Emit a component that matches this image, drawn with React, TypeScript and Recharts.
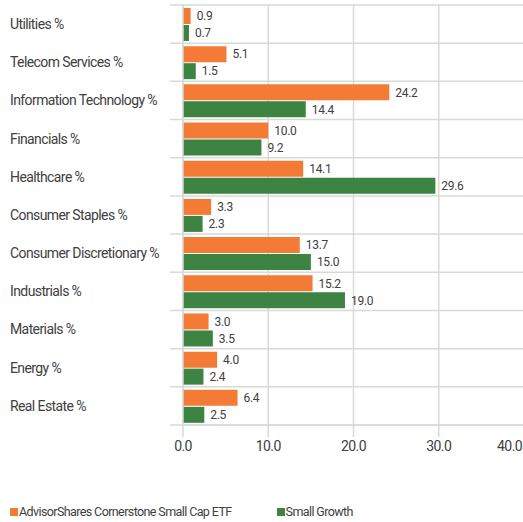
import { Bar, BarChart, CartesianGrid, LabelList, XAxis, YAxis } from "recharts"

const sectors = [
  "Utilities %",
  "Telecom Services %",
  "Information Technology %",
  "Financials %",
  "Healthcare %",
  "Consumer Staples %",
  "Consumer Discretionary %",
  "Industrials %",
  "Materials %",
  "Energy %",
  "Real Estate %",
]
const etfValues = [0.9, 5.1, 24.2, 10.0, 14.1, 3.3, 13.7, 15.2, 3.0, 4.0, 6.4]
const growthValues = [0.7, 1.5, 14.4, 9.2, 29.6, 2.3, 15.0, 19.0, 3.5, 2.4, 2.5]
const xTicks = [0, 10, 20, 30, 40]

const ETF = "AdvisorShares Cornerstone Small Cap ETF"
const GROWTH = "Small Growth"
const ORANGE = "#f47b36"
const GREEN = "#3d8442"
const GRID = "#d9d9d9"
const TEXT = "#404040"
const FONT = "Roboto, 'Liberation Sans Narrow', sans-serif"
const SPACING = -0.6

const data = sectors.map((s, i) => ({ sector: s, [ETF]: etfValues[i], [GROWTH]: growthValues[i] }))

function SectorTick(props: any) {
  const { y, payload } = props
  return (
    <text x={10} y={y} dy="0.35em" textAnchor="start" fill={TEXT} fontSize={14} fontFamily={FONT} letterSpacing={SPACING}>
      {payload.value}
    </text>
  )
}

function ValueTick(props: any) {
  const { x, y, payload } = props
  const last = payload.value === xTicks[xTicks.length - 1]
  return (
    <text
      x={last ? 522 : x}
      y={y + 2}
      dy="0.71em"
      textAnchor={last ? "end" : "middle"}
      fill={TEXT}
      fontSize={14}
      fontFamily={FONT}
      letterSpacing={SPACING}
    >
      {Number(payload.value).toFixed(1)}
    </text>
  )
}

function GridRow(props: any) {
  const { x1, x2, y1, y2, key } = props
  return <line key={key} x1={x1 - 13} x2={x2 + 10} y1={y1} y2={y2} stroke={GRID} strokeWidth={1.5} />
}

function LegendBox() {
  const item = (color: string, label: string, gap: number) => (
    <span style={{ display: "inline-flex", alignItems: "center", marginRight: gap }}>
      <span style={{ width: 8, height: 8, background: color, display: "inline-block", marginRight: 1 }} />
      {label}
    </span>
  )
  return (
    <div
      style={{
        position: "absolute",
        left: 10,
        top: 503,
        fontFamily: FONT,
        fontSize: 12.5,
        lineHeight: "18px",
        color: TEXT,
        letterSpacing: SPACING,
        whiteSpace: "nowrap",
      }}
    >
      {item(ORANGE, ETF, 45)}
      {item(GREEN, GROWTH, 0)}
    </div>
  )
}

export default function App() {
  return (
    <div style={{ position: "absolute", left: 0, top: 0, width: 523, height: 522, overflow: "hidden", background: "#fff" }}>
      <BarChart
        width={531}
        height={522}
        data={data}
        layout="vertical"
        margin={{ top: 5, right: 7, left: 0, bottom: 57 }}
        barSize={16}
        barGap={1}
      >
        <CartesianGrid
          stroke={GRID}
          strokeWidth={1.5}
          horizontal={GridRow}
          horizontalCoordinatesGenerator={({ offset }: any) =>
            Array.from({ length: sectors.length + 1 }, (_, i) => offset.top + (i * offset.height) / sectors.length)
          }
        />
        <XAxis
          type="number"
          domain={[0, 40]}
          ticks={xTicks}
          tick={<ValueTick />}
          tickSize={12}
          tickLine={{ stroke: GRID, strokeWidth: 1.5 }}
          axisLine={{ stroke: GRID, strokeWidth: 1.5 }}
          height={40}
        />
        <YAxis
          type="category"
          dataKey="sector"
          width={183}
          tick={<SectorTick />}
          tickLine={false}
          axisLine={{ stroke: GRID, strokeWidth: 1.5 }}
          interval={0}
        />
        <Bar dataKey={ETF} fill={ORANGE} isAnimationActive={false}>
          <LabelList
            dataKey={ETF}
            position="right"
            offset={6}
            formatter={(v: any) => Number(v).toFixed(1)}
            style={{ fill: TEXT, fontSize: 12, fontFamily: FONT, letterSpacing: -0.3 }}
          />
        </Bar>
        <Bar dataKey={GROWTH} fill={GREEN} isAnimationActive={false}>
          <LabelList
            dataKey={GROWTH}
            position="right"
            offset={6}
            formatter={(v: any) => Number(v).toFixed(1)}
            style={{ fill: TEXT, fontSize: 12, fontFamily: FONT, letterSpacing: -0.3 }}
          />
        </Bar>
      </BarChart>
      <LegendBox />
    </div>
  )
}
